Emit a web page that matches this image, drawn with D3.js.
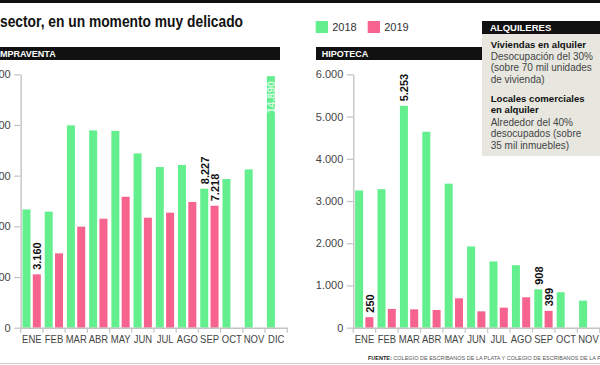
<!DOCTYPE html>
<html><head><meta charset="utf-8">
<script src="https://cdn.jsdelivr.net/npm/d3@7"></script>
<style>body{margin:0;background:#fff} svg{display:block;font-family:"Liberation Sans",Arial,sans-serif}</style>
</head><body><svg id="c" width="600" height="365"></svg>
<script>
// ---- data ----
const months = ["ENE","FEB","MAR","ABR","MAY","JUN","JUL","AGO","SEP","OCT","NOV","DIC"];
const series = ["2018","2019"];
const compra2018 = [7000, 6870, 11980, 11680, 11650, 10320, 9510, 9630, 8227, 8800, 9370, 14890];
const compra2019 = [3160, 4400, 5980, 6450, 7750, 6510, 6810, 7440, 7218, null, null, null];
const hipo2018 = [3250, 3280, 5253, 4640, 3410, 1924, 1568, 1480, 908, 840, 640, 600];
const hipo2019 = [250, 445, 435, 420, 695, 387, 475, 720, 399, null, null, null];
const compraTicks = [0, 3000, 6000, 9000, 12000, 15000];
const hipoTicks = [0, 1000, 2000, 3000, 4000, 5000, 6000];
const compraLabels = [["ENE","2019"],["SEP","2018"],["SEP","2019"]];
const compraInside = [["DIC","2018"]];
const hipoLabels = [["MAR","2018"],["ENE","2019"],["SEP","2018"],["SEP","2019"]];
const boxLines = [
  ["Viviendas en alquiler", true],
  ["Desocupación del 30%", false],
  ["(sobre 70 mil unidades", false],
  ["de vivienda)", false],
  ["Locales comerciales", true],
  ["en alquiler", true],
  ["Alrededor del 40%", false],
  ["desocupados (sobre", false],
  ["35 mil inmuebles)", false]
];
const colors = {"2018":"#63ef8e","2019":"#f6638f"};
const fmt = v => d3.format(",")(v).replace(/,/g, ".");

const svg = d3.select("#c");
svg.append("rect").attr("width",600).attr("height",365).attr("fill","#fff");
svg.append("rect").attr("x",0).attr("y",0).attr("width",600).attr("height",3).attr("fill","#111");

svg.append("text").attr("x",0).attr("y",26.5)
  .attr("font-size",16.5).attr("font-weight","bold").attr("fill","#111")
  .attr("textLength",243).attr("lengthAdjust","spacingAndGlyphs")
  .text("sector, en un momento muy delicado");

// panel headers
svg.append("rect").attr("x",0).attr("y",47).attr("width",280).attr("height",13).attr("fill","#111");
svg.append("text").attr("x",-13.5).attr("y",56.8).attr("font-size",9).attr("font-weight","bold").attr("fill","#fff").text("COMPRAVENTA");
svg.append("rect").attr("x",316).attr("y",47).attr("width",170).attr("height",13).attr("fill","#111");
svg.append("text").attr("x",321.7).attr("y",56.8).attr("font-size",9).attr("font-weight","bold").attr("fill","#fff").text("HIPOTECA");

// legend
const leg = svg.append("g");
[["2018",315.7],["2019",367.7]].forEach(([s,x])=>{
  leg.append("rect").attr("x",x).attr("y",21).attr("width",12.3).attr("height",12).attr("fill",colors[s]);
  leg.append("text").attr("x",x+16.5).attr("y",31).attr("font-size",11).attr("fill","#333").text(s);
});

function drawPanel(d18, d19, ticks, x0, x1end, labels, inside) {
  const g = svg.append("g");
  const x = d3.scaleBand().domain(months).range([x0, x1end]).padding(0);
  const xs = d3.scaleBand().domain(series).range([1.8, 20.1]).paddingInner(0.223).paddingOuter(0);
  const y = d3.scaleLinear().domain([0, d3.max(ticks)]).range([327.7, 74.3]);
  const data = series.map(s => ({s, vals: s==="2018"?d18:d19}));
  data.forEach(({s, vals}) => {
    g.selectAll(null).data(months.map((m,i)=>({m, v: vals[i]})).filter(d=>d.v!=null))
      .join("rect")
      .attr("x", d => x(d.m) + xs(s))
      .attr("width", xs.bandwidth())
      .attr("y", d => y(d.v))
      .attr("height", d => y(0) - y(d.v))
      .attr("fill", colors[s]);
  });
  const val = (m,s) => (s==="2018"?d18:d19)[months.indexOf(m)];
  labels.forEach(([m,s]) => {
    const v = val(m,s);
    g.append("text")
      .attr("transform", `translate(${x(m)+xs(s)+xs.bandwidth()/2+0.3},${y(v)-4.5}) rotate(-90)`)
      .attr("dy","0.36em").attr("font-size",11).attr("font-weight","bold").attr("fill","#111")
      .text(fmt(v));
  });
  inside.forEach(([m,s]) => {
    const v = val(m,s);
    g.append("text")
      .attr("transform", `translate(${x(m)+xs(s)+xs.bandwidth()/2+0.3},${y(v)+5}) rotate(-90)`)
      .attr("dy","0.36em").attr("text-anchor","end").attr("font-size",10.5).attr("font-weight","bold")
      .attr("fill","#fff").attr("fill-opacity",0.75)
      .text(fmt(v));
  });
  // y axis
  const ya = g.append("g").attr("transform",`translate(${x0},0)`)
    .call(d3.axisLeft(y).tickValues(ticks).tickSize(6.5).tickPadding(3.5).tickFormat(fmt).tickSizeOuter(0));
  ya.select(".domain").attr("stroke","#c4c4c4").attr("stroke-width",1.4);
  ya.selectAll(".tick line").attr("stroke","#c4c4c4").attr("stroke-width",1.2);
  ya.selectAll(".tick text").attr("font-size",11).attr("fill","#444").attr("font-family","Liberation Sans, Arial, sans-serif");
  // x axis
  const xa = g.append("g").attr("transform",`translate(0,${y(0)})`)
    .call(d3.axisBottom(x).tickSize(0).tickPadding(7.5).tickSizeOuter(0));
  xa.select(".domain").attr("stroke","#c4c4c4").attr("stroke-width",1.4);
  xa.selectAll(".tick text").attr("font-size",11).attr("fill","#444")
    .attr("font-family","Liberation Sans, Arial, sans-serif")
    .each(function(){
      const w = this.getComputedTextLength();
      d3.select(this).attr("textLength", w*0.86).attr("lengthAdjust","spacingAndGlyphs");
    });
  const bounds = months.map(m => x(m)).concat([x1end]);
  xa.selectAll(".bt").data(bounds).join("line").attr("class","bt")
    .attr("x1", d=>d).attr("x2", d=>d).attr("y1",0).attr("y2",5)
    .attr("stroke","#c4c4c4").attr("stroke-width",1.2);
}

drawPanel(compra2018, compra2019, compraTicks, 20.7, 287.3, compraLabels, compraInside);
drawPanel(hipo2018, hipo2019, hipoTicks, 353.3, 622.1, hipoLabels, []);

// alquileres box
svg.append("rect").attr("x",482).attr("y",34).attr("width",118).attr("height",122).attr("fill","#e7e7e0");
svg.append("rect").attr("x",482).attr("y",21).attr("width",118).attr("height",13).attr("fill","#111");
svg.append("text").attr("x",490).attr("y",30.8).attr("font-size",9.5).attr("font-weight","bold").attr("fill","#fff").text("ALQUILERES");
const baselines = [47.5, 59.5, 71.3, 83, 101.5, 113.2, 125.5, 137.2, 149];
boxLines.forEach(([t,b],i)=>{
  svg.append("text").attr("x",490.7).attr("y",baselines[i])
    .attr("font-size", b?9.6:10).attr("font-weight", b?"bold":"normal")
    .attr("fill", b?"#111":"#444").text(t);
});

// footer
const ft = svg.append("text").attr("x",368).attr("y",359.5).attr("font-size",5.5).attr("fill","#555");
ft.append("tspan").attr("font-weight","bold").attr("fill","#222").text("FUENTE:");
ft.append("tspan").text(" COLEGIO DE ESCRIBANOS DE LA PLATA Y COLEGIO DE ESCRIBANOS DE LA PROVINCIA");
svg.append("line").attr("x1",0).attr("x2",600).attr("y1",363.5).attr("y2",363.5).attr("stroke","#d0d0d0").attr("stroke-width",1);
</script></body></html>
